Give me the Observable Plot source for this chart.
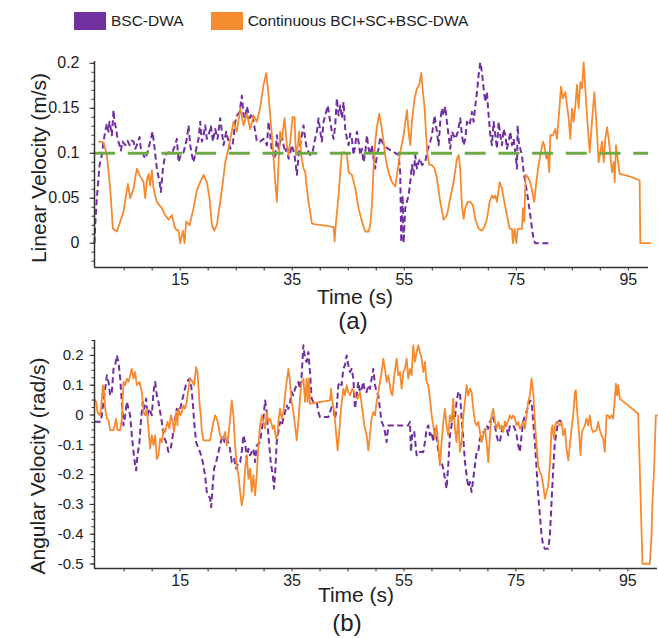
<!DOCTYPE html>
<html><head><meta charset="utf-8">
<script src="https://cdn.jsdelivr.net/npm/d3@7"></script>
<script src="https://cdn.jsdelivr.net/npm/@observablehq/plot@0.6"></script>
<style>
body{margin:0;background:#fff;font-family:"Liberation Sans",Arial,sans-serif;color:#222}
#page{position:relative;width:658px;height:638px;overflow:hidden;background:#fff}
.abs{position:absolute;white-space:nowrap;line-height:1}
</style></head><body><div id="page"></div>
<script>
// ---------- data ----------
const seriesNames = ["BSC-DWA", "Continuous BCI+SC+BSC-DWA"];
const seriesColors = ["#7030A0", "#F68A2E"];
const referenceColor = "#6DAA45";
const referenceVelocity = 0.1;

const xLabelTicks = [15, 35, 55, 75, 95];
const xMinorTicks = [5, 10, 15, 20, 25, 30, 35, 40, 45, 50, 55, 60, 65, 70, 75, 80, 85, 90, 95];
const linYTicks = [0, 0.05, 0.1, 0.15, 0.2];
const angYTicks = [-0.5, -0.4, -0.3, -0.2, -0.1, 0, 0.1, 0.2];

// Linear velocity (m/s): [time s, value]
const linBSC = [[-0.3,0],[-0.18,0.020],[0.12,0.050],[0.60,0.087],[1.01,0.098],[1.31,0.113],[1.61,0.124],[1.91,0.133],[2.20,0.124],[2.38,0.135],[2.62,0.127],[2.80,0.120],[3.10,0.148],[3.28,0.135],[3.57,0.127],[3.81,0.116],[4.17,0.109],[4.41,0.103],[4.70,0.113],[5.18,0.109],[5.60,0.114],[5.95,0.109],[6.37,0.114],[6.67,0.113],[6.97,0.105],[7.26,0.109],[7.74,0.118],[7.98,0.105],[8.45,0.098],[8.75,0.094],[9.17,0.101],[9.64,0.113],[10.06,0.124],[10.36,0.109],[10.83,0.083],[11.31,0.068],[11.55,0.057],[11.91,0.083],[12.32,0.098],[12.92,0.101],[13.51,0.100],[14.11,0.109],[14.41,0.116],[14.70,0.090],[15.12,0.098],[15.60,0.101],[16.19,0.116],[16.49,0.131],[16.79,0.109],[17.08,0.098],[17.38,0.090],[17.86,0.105],[18.27,0.116],[18.57,0.135],[18.87,0.113],[19.17,0.120],[19.46,0.131],[19.76,0.116],[20.24,0.124],[20.48,0.131],[20.83,0.113],[21.25,0.127],[21.67,0.116],[22.14,0.139],[22.44,0.124],[22.74,0.109],[23.21,0.124],[23.63,0.113],[23.93,0.105],[24.40,0.111],[24.82,0.135],[25.12,0.142],[25.60,0.146],[26.01,0.164],[26.31,0.142],[26.61,0.139],[26.91,0.152],[27.38,0.139],[27.80,0.144],[28.10,0.135],[28.69,0.113],[29.29,0.113],[29.88,0.116],[30.48,0.109],[30.77,0.135],[31.07,0.120],[31.37,0.101],[31.96,0.094],[32.26,0.120],[32.56,0.105],[32.85,0.113],[33.15,0.120],[33.45,0.109],[33.75,0.101],[34.04,0.105],[34.34,0.094],[34.64,0.101],[34.94,0.109],[35.41,0.098],[35.83,0.076],[36.13,0.098],[36.42,0.109],[36.72,0.120],[37.02,0.131],[37.32,0.116],[37.61,0.105],[38.21,0.098],[38.63,0.101],[38.98,0.113],[39.40,0.124],[39.70,0.139],[40.0,0.124],[40.29,0.113],[40.59,0.135],[40.89,0.142],[41.36,0.153],[41.60,0.142],[42.08,0.124],[42.38,0.116],[42.67,0.131],[42.97,0.161],[43.27,0.142],[43.57,0.153],[43.86,0.139],[44.16,0.157],[44.46,0.127],[44.76,0.116],[45.06,0.109],[45.35,0.122],[45.65,0.116],[45.95,0.098],[46.25,0.109],[46.54,0.124],[46.84,0.113],[47.14,0.098],[47.44,0.105],[47.73,0.090],[48.03,0.101],[48.33,0.120],[48.63,0.105],[48.92,0.098],[49.22,0.109],[49.52,0.094],[49.82,0.083],[50.11,0.098],[50.41,0.105],[50.71,0.118],[51.01,0.113],[51.60,0.107],[53.98,0.098],[54.28,0.079],[54.46,0.001],[54.70,0.053],[54.88,0.0],[55.17,0.039],[55.47,0.046],[55.77,0.053],[56.07,0.068],[56.36,0.087],[56.66,0.076],[56.96,0.098],[57.26,0.083],[57.55,0.090],[57.85,0.094],[58.15,0.087],[58.74,0.090],[59.04,0.101],[59.64,0.113],[59.94,0.120],[60.41,0.142],[60.83,0.124],[61.13,0.109],[61.42,0.135],[61.72,0.150],[62.02,0.142],[62.32,0.152],[62.61,0.135],[62.91,0.120],[63.21,0.105],[63.51,0.124],[64.10,0.116],[64.58,0.124],[64.99,0.139],[65.29,0.120],[65.60,0.109],[65.89,0.116],[66.19,0.135],[66.67,0.131],[67.08,0.146],[67.38,0.135],[67.68,0.153],[67.98,0.168],[68.27,0.187],[68.57,0.201],[68.87,0.190],[69.17,0.172],[69.46,0.157],[69.76,0.168],[70.06,0.142],[70.36,0.120],[70.65,0.109],[70.95,0.135],[71.25,0.120],[71.55,0.105],[71.85,0.135],[72.14,0.120],[72.44,0.109],[72.74,0.127],[73.04,0.120],[73.33,0.105],[73.63,0.113],[73.93,0.124],[74.23,0.109],[74.52,0.116],[74.82,0.101],[75.12,0.083],[75.24,0.131],[75.42,0.113],[75.71,0.105],[76.01,0.098],[76.31,0.079],[76.90,0.057],[77.50,0.031],[78.10,0.003],[78.39,0.0],[81.37,0.0]];

const linCont = [[0.5,0.113],[0.6,0.113],[1.31,0.112],[1.91,0.098],[2.50,0.061],[2.98,0.016],[3.69,0.013],[4.29,0.024],[4.88,0.035],[5.66,0.066],[6.07,0.050],[6.67,0.061],[7.26,0.083],[7.86,0.074],[8.45,0.068],[8.75,0.050],[9.05,0.070],[9.35,0.077],[9.64,0.064],[9.94,0.081],[10.24,0.061],[10.54,0.053],[10.83,0.046],[11.73,0.039],[12.32,0.031],[12.92,0.026],[13.51,0.031],[14.11,0.016],[14.70,0.014],[15.0,0.0],[15.48,0.014],[15.78,0.0],[16.07,0.024],[16.67,0.020],[17.38,0.039],[17.98,0.059],[18.57,0.068],[19.17,0.076],[19.76,0.068],[20.24,0.050],[20.66,0.020],[21.07,0.014],[21.55,0.020],[22.14,0.046],[22.62,0.068],[23.04,0.090],[23.33,0.098],[23.81,0.111],[24.52,0.135],[25.12,0.124],[25.72,0.150],[26.31,0.131],[26.91,0.144],[27.50,0.127],[28.10,0.142],[28.69,0.135],[29.29,0.151],[29.88,0.176],[30.36,0.189],[30.77,0.164],[31.07,0.142],[31.55,0.105],[31.96,0.068],[32.26,0.046],[32.56,0.090],[32.85,0.124],[33.15,0.116],[33.63,0.139],[34.04,0.109],[34.34,0.098],[34.64,0.113],[35.06,0.140],[35.41,0.140],[35.65,0.098],[36.0,0.109],[36.25,0.124],[36.6,0.098],[37.02,0.083],[37.32,0.079],[37.61,0.061],[37.91,0.046],[38.51,0.022],[39.10,0.021],[40.29,0.020],[41.48,0.019],[42.38,0.018],[42.56,0.002],[42.79,0.022],[43.27,0.053],[43.57,0.079],[43.86,0.101],[44.46,0.101],[44.76,0.098],[45.06,0.079],[45.65,0.076],[46.25,0.061],[46.84,0.039],[47.44,0.024],[48.03,0.013],[48.63,0.013],[48.92,0.020],[49.22,0.042],[49.52,0.083],[49.82,0.113],[50.11,0.129],[50.53,0.144],[50.89,0.131],[51.30,0.113],[51.60,0.098],[51.90,0.087],[52.20,0.079],[52.79,0.068],[53.39,0.063],[53.69,0.076],[54.28,0.101],[54.88,0.120],[55.47,0.148],[55.77,0.124],[56.07,0.109],[56.36,0.135],[56.84,0.161],[57.26,0.172],[57.67,0.176],[58.03,0.189],[58.27,0.172],[58.63,0.150],[58.87,0.124],[59.10,0.101],[59.46,0.087],[59.94,0.087],[60.41,0.083],[60.83,0.072],[61.42,0.046],[62.02,0.026],[62.61,0.031],[63.21,0.050],[63.80,0.068],[64.40,0.094],[64.70,0.098],[64.99,0.083],[65.29,0.042],[65.60,0.027],[65.89,0.039],[66.31,0.046],[66.79,0.046],[67.26,0.042],[67.68,0.027],[68.27,0.016],[68.87,0.014],[69.29,0.018],[69.76,0.027],[70.24,0.046],[70.65,0.053],[70.95,0.050],[71.25,0.053],[71.55,0.046],[72.02,0.068],[72.44,0.061],[72.74,0.050],[73.33,0.031],[73.81,0.016],[74.23,0.016],[74.40,0.0],[74.70,0.016],[75.0,0.0],[75.24,0.016],[76.01,0.016],[76.19,0.039],[76.43,0.024],[76.67,0.076],[77.02,0.074],[77.50,0.068],[77.98,0.053],[78.21,0.046],[78.57,0.068],[78.99,0.087],[79.40,0.101],[79.76,0.113],[80.0,0.109],[80.36,0.094],[80.60,0.101],[80.89,0.079],[81.07,0.120],[81.55,0.120],[81.96,0.127],[82.26,0.116],[82.74,0.153],[82.98,0.174],[83.33,0.161],[83.75,0.168],[84.05,0.153],[84.35,0.139],[84.64,0.116],[84.94,0.150],[85.24,0.135],[85.54,0.153],[85.83,0.176],[86.13,0.150],[86.43,0.179],[86.73,0.172],[87.02,0.201],[87.32,0.172],[87.62,0.142],[88.10,0.101],[88.51,0.135],[88.93,0.168],[89.29,0.135],[89.70,0.090],[90.0,0.101],[90.30,0.113],[90.60,0.090],[90.89,0.116],[91.19,0.129],[91.49,0.116],[91.79,0.098],[92.08,0.079],[92.38,0.090],[92.56,0.068],[92.80,0.109],[93.10,0.094],[93.45,0.077],[94.17,0.076],[95.36,0.074],[97.02,0.070],[97.14,0.0],[98.93,0.0]];

// Angular velocity (rad/s): [time s, value]
const angBSC = [[-0.3,-0.023],[0.72,-0.023],[1.01,-0.001],[1.31,0.044],[1.61,0.088],[1.91,0.133],[2.20,0.111],[2.50,0.066],[2.80,0.077],[3.10,0.155],[3.39,0.167],[3.69,0.200],[3.99,0.178],[4.29,0.122],[4.58,0.044],[4.88,-0.035],[5.18,-0.001],[5.48,0.044],[5.77,0.021],[6.07,-0.001],[6.37,-0.068],[6.67,-0.124],[6.97,-0.169],[7.14,-0.186],[7.38,-0.135],[7.74,-0.091],[7.98,-0.023],[8.33,0.044],[8.57,0.021],[8.93,0.055],[9.17,-0.001],[9.52,0.021],[9.94,-0.001],[10.24,0.077],[10.54,0.111],[10.83,0.066],[11.13,0.044],[11.43,0.010],[11.73,-0.023],[12.02,-0.068],[12.50,-0.091],[12.92,-0.124],[13.33,-0.113],[13.69,-0.068],[14.11,-0.012],[14.40,0.021],[14.88,0.010],[15.30,0.044],[15.71,0.077],[16.19,0.111],[16.67,0.122],[16.91,0.111],[17.26,0.044],[17.50,-0.023],[17.86,-0.091],[18.27,-0.113],[18.57,-0.124],[19.05,-0.158],[19.46,-0.202],[19.76,-0.258],[20.06,-0.270],[20.36,-0.281],[20.54,-0.309],[20.83,-0.236],[21.07,-0.180],[21.43,-0.158],[21.85,-0.124],[22.26,-0.091],[22.62,-0.068],[22.92,-0.091],[23.33,-0.079],[23.81,-0.102],[24.23,-0.158],[24.64,-0.147],[25.0,-0.180],[25.42,-0.158],[25.72,-0.158],[26.01,-0.124],[26.31,-0.068],[26.61,-0.091],[26.91,-0.147],[27.20,-0.113],[27.50,-0.135],[27.80,-0.124],[28.10,-0.113],[28.39,-0.158],[28.69,-0.102],[29.29,-0.091],[29.88,-0.012],[30.18,0.049],[30.48,0.010],[30.77,-0.068],[31.19,-0.158],[31.55,-0.202],[31.79,-0.247],[32.02,-0.180],[32.26,-0.091],[32.56,-0.057],[32.85,-0.023],[33.15,-0.035],[33.45,-0.012],[33.75,0.010],[34.04,0.032],[34.34,0.021],[34.64,0.044],[34.94,0.077],[35.23,0.066],[35.53,0.088],[35.83,0.100],[36.13,0.111],[36.42,0.088],[36.72,0.133],[37.02,0.234],[37.32,0.189],[37.61,0.178],[37.91,0.211],[38.21,0.144],[38.51,0.055],[38.80,0.044],[39.40,0.044],[39.70,0.010],[40.0,-0.007],[41.48,-0.007],[41.78,0.010],[42.08,0.027],[42.38,0.021],[42.67,-0.012],[42.97,0.021],[43.27,0.100],[43.57,0.111],[43.86,0.100],[44.16,0.155],[44.46,0.167],[44.76,0.200],[45.06,0.167],[45.35,0.144],[45.65,0.155],[45.95,0.122],[46.25,0.021],[46.54,0.066],[46.84,0.111],[47.14,0.077],[47.44,0.088],[47.73,0.111],[48.03,0.077],[48.33,0.077],[48.63,0.100],[48.92,0.088],[49.22,0.122],[49.52,0.155],[49.82,0.100],[50.11,0.077],[50.41,0.066],[50.71,0.021],[51.01,-0.023],[51.30,-0.035],[51.60,-0.057],[51.90,-0.091],[52.20,-0.035],[55.77,-0.035],[56.07,-0.023],[56.25,-0.124],[56.49,-0.057],[56.84,-0.057],[57.08,-0.102],[57.26,-0.135],[57.55,-0.124],[58.45,-0.124],[58.74,-0.091],[59.04,-0.046],[59.34,-0.035],[59.64,-0.068],[59.94,-0.057],[60.23,-0.091],[60.53,-0.046],[60.83,-0.068],[61.13,-0.124],[61.42,-0.147],[61.72,-0.158],[62.02,-0.180],[62.32,-0.214],[62.61,-0.247],[62.91,-0.169],[63.21,-0.068],[63.51,-0.035],[63.80,-0.001],[64.10,-0.012],[64.40,0.044],[64.70,0.077],[65.0,0.077],[65.30,-0.012],[65.60,-0.079],[65.89,-0.158],[66.19,-0.202],[66.49,-0.242],[66.79,-0.225],[67.08,-0.258],[67.38,-0.214],[67.68,-0.169],[67.98,-0.124],[68.27,-0.124],[68.57,-0.079],[68.87,-0.068],[69.17,-0.057],[69.46,-0.057],[69.76,-0.035],[70.06,-0.046],[70.36,-0.023],[70.65,-0.012],[70.95,-0.001],[71.25,-0.035],[71.55,-0.068],[71.85,-0.091],[72.14,-0.091],[72.44,-0.057],[72.74,-0.035],[73.04,-0.023],[73.33,-0.046],[73.63,-0.068],[73.93,-0.035],[74.52,-0.035],[74.82,-0.046],[75.12,-0.068],[75.42,-0.102],[75.71,-0.124],[76.01,-0.068],[76.31,-0.023],[76.61,-0.001],[76.90,0.010],[77.20,0.032],[77.50,0.049],[77.80,0.044],[78.10,-0.023],[78.39,-0.091],[78.69,-0.180],[78.99,-0.270],[79.29,-0.337],[79.58,-0.404],[79.88,-0.437],[80.18,-0.449],[80.77,-0.449],[81.07,-0.404],[81.37,-0.292],[81.67,-0.180],[81.96,-0.091],[82.26,-0.057],[82.56,-0.023],[82.86,-0.018],[83.15,-0.023]];

const angCont = [[-0.3,0.052],[0.0,0.044],[0.24,0.010],[0.60,-0.001],[0.89,0.021],[1.19,0.100],[1.43,0.077],[1.61,0.021],[1.91,-0.012],[2.20,-0.018],[2.50,-0.051],[3.10,-0.051],[3.57,-0.012],[3.81,-0.051],[4.29,-0.051],[4.58,-0.012],[4.88,0.111],[5.18,0.100],[5.48,0.122],[5.77,0.111],[6.07,0.133],[6.37,0.155],[6.67,0.122],[6.97,0.144],[7.26,0.100],[7.74,0.111],[8.16,0.077],[8.45,0.010],[8.75,-0.001],[9.05,0.021],[9.35,-0.046],[9.64,-0.113],[9.94,-0.068],[10.24,-0.102],[10.54,-0.068],[10.83,-0.147],[11.13,-0.135],[11.43,-0.079],[11.73,-0.091],[12.02,-0.046],[12.32,-0.057],[12.74,-0.023],[13.10,-0.046],[13.33,-0.001],[13.69,-0.023],[13.93,-0.057],[14.29,0.010],[14.52,-0.035],[14.70,0.021],[15.0,-0.001],[15.30,0.010],[15.60,0.032],[15.89,0.021],[16.19,0.044],[16.49,0.088],[16.79,0.122],[17.08,0.116],[17.50,0.100],[17.86,0.161],[18.10,0.144],[18.45,0.044],[18.69,-0.001],[18.87,-0.051],[19.17,-0.085],[20.36,-0.085],[20.83,-0.035],[21.25,-0.001],[21.55,-0.012],[21.85,-0.035],[22.14,-0.068],[22.44,-0.079],[22.74,-0.079],[23.04,-0.057],[23.33,-0.102],[23.63,-0.068],[23.93,-0.012],[24.23,0.049],[24.52,-0.001],[24.82,-0.102],[25.12,-0.169],[25.42,-0.202],[25.72,-0.258],[26.01,-0.303],[26.31,-0.270],[26.61,-0.180],[26.91,-0.135],[27.20,-0.214],[27.50,-0.180],[27.80,-0.258],[28.10,-0.202],[28.39,-0.270],[28.69,-0.202],[28.99,-0.102],[29.29,-0.035],[29.58,-0.001],[29.88,-0.023],[30.18,-0.046],[30.48,0.010],[30.77,-0.023],[31.07,-0.012],[31.55,-0.046],[31.79,-0.035],[32.14,-0.079],[32.38,-0.068],[32.62,-0.012],[32.85,0.021],[33.15,-0.012],[33.45,0.010],[33.75,0.066],[34.04,0.111],[34.34,0.155],[34.64,0.111],[34.94,0.044],[35.23,0.010],[35.53,-0.035],[35.83,-0.085],[36.13,-0.023],[36.42,0.055],[36.72,0.111],[37.02,0.122],[37.32,0.044],[37.61,0.122],[37.79,0.044],[38.03,0.122],[38.21,0.038],[41.78,0.049],[41.96,0.088],[42.20,0.044],[42.56,0.010],[42.85,-0.057],[43.15,-0.119],[43.39,-0.068],[43.75,0.021],[44.16,0.088],[44.46,0.066],[44.76,0.100],[45.06,0.077],[45.35,0.066],[45.77,0.088],[46.13,0.077],[46.37,0.060],[46.73,0.055],[47.14,0.077],[47.56,0.021],[47.92,-0.035],[48.33,-0.068],[48.63,-0.119],[48.92,-0.068],[49.22,-0.012],[49.52,0.010],[49.82,-0.001],[50.11,0.044],[50.41,0.077],[50.71,0.111],[51.01,0.144],[51.30,0.189],[51.60,0.155],[51.90,0.111],[52.20,0.133],[52.67,0.077],[52.91,0.066],[53.27,0.133],[53.69,0.189],[53.98,0.133],[54.28,0.144],[54.58,0.088],[54.88,0.144],[55.17,0.155],[55.47,0.189],[55.77,0.122],[56.07,0.155],[56.36,0.133],[56.66,0.234],[56.96,0.178],[57.26,0.211],[57.55,0.234],[57.85,0.211],[58.15,0.189],[58.45,0.144],[58.74,0.178],[59.04,0.111],[59.34,0.100],[59.64,0.055],[59.94,-0.001],[60.23,-0.035],[60.53,-0.079],[60.83,-0.035],[61.13,-0.102],[61.42,-0.169],[61.72,-0.091],[62.02,-0.023],[62.32,0.021],[62.61,-0.035],[62.91,-0.068],[63.21,-0.001],[63.51,-0.023],[63.80,0.055],[64.10,-0.046],[64.40,-0.091],[64.70,-0.001],[64.99,-0.124],[65.29,-0.091],[65.60,-0.001],[65.89,0.044],[66.19,0.100],[66.49,0.066],[66.79,0.088],[67.08,0.077],[67.38,0.021],[67.68,-0.023],[67.98,-0.035],[68.27,-0.023],[68.57,-0.057],[68.87,-0.091],[69.17,-0.068],[69.46,-0.046],[69.76,-0.091],[70.06,-0.158],[70.36,-0.068],[70.65,-0.001],[70.95,0.021],[71.25,-0.023],[71.55,-0.046],[71.85,-0.023],[72.14,-0.046],[72.44,-0.035],[72.74,-0.057],[73.04,-0.023],[73.33,-0.035],[73.93,-0.001],[74.23,-0.012],[74.52,-0.001],[74.82,-0.012],[75.12,-0.035],[75.42,-0.023],[75.71,-0.046],[76.01,-0.035],[76.31,-0.023],[76.61,-0.046],[76.90,-0.001],[77.20,0.044],[77.50,0.066],[77.80,0.122],[78.10,0.077],[78.39,-0.023],[78.69,-0.102],[78.99,-0.169],[79.29,-0.191],[79.58,-0.202],[79.88,-0.236],[80.18,-0.281],[80.48,-0.258],[80.77,-0.236],[81.07,-0.169],[81.37,-0.046],[81.55,-0.035],[81.79,-0.079],[82.02,-0.035],[82.26,-0.023],[82.86,-0.035],[83.15,-0.023],[83.45,-0.068],[83.75,-0.046],[84.05,-0.113],[84.35,-0.152],[84.64,-0.102],[84.94,-0.046],[85.24,-0.001],[85.54,0.077],[85.71,0.083],[85.95,0.010],[86.31,-0.068],[86.55,-0.135],[86.79,-0.057],[87.02,-0.046],[87.32,-0.035],[87.62,-0.012],[87.92,-0.035],[88.21,-0.001],[88.51,-0.046],[88.81,-0.057],[89.40,-0.051],[89.70,-0.023],[90.0,-0.051],[90.30,-0.068],[90.60,-0.079],[90.89,-0.124],[91.19,-0.001],[91.49,-0.001],[91.79,-0.012],[92.08,-0.001],[92.38,-0.012],[92.68,0.055],[92.86,0.105],[93.10,0.066],[93.27,0.100],[93.57,0.055],[96.85,0.004],[97.62,-0.499],[98.93,-0.499],[99.23,-0.404],[99.40,-0.292],[99.70,-0.180],[100.0,-0.001],[100.2,-0.001]];

// ---------- drawing ----------
const FONT = '"Liberation Sans", Arial, sans-serif';
const axisColor = "#333";
const pageEl = document.getElementById("page");

function addText(txt, css) {
  const d = document.createElement("div");
  d.className = "abs";
  d.textContent = txt;
  Object.assign(d.style, css);
  pageEl.appendChild(d);
  return d;
}

function panel(opts) {
  const {bsc, cont, xDomain, yDomain, yTicks, yMinorStep, yFont, yPad, height, marginTop, marginBottom, marginRight, reference} = opts;
  const yMinor = d3.range(Math.ceil(yDomain[0] / yMinorStep) * yMinorStep, yDomain[1] + 1e-9, yMinorStep);
  const lineOpts = {x: d => d[0], y: d => d[1]};
  const marks = [
    Plot.line(bsc, {...lineOpts, stroke: seriesColors[0], strokeWidth: 2, strokeDasharray: "6,3.5", strokeLinecap: "butt", strokeLinejoin: "round"}),
    Plot.line(cont, {...lineOpts, stroke: seriesColors[1], strokeWidth: 1.8, strokeLinejoin: "round"}),
  ];
  if (reference != null) {
    marks.push(Plot.ruleY([reference], {stroke: referenceColor, strokeWidth: 3, strokeDasharray: "21,12.7"}));
  }
  marks.push(
    Plot.ruleX([xDomain[0]], {stroke: axisColor, strokeWidth: 1.5}),
    Plot.ruleY([yDomain[0]], {stroke: axisColor, strokeWidth: 1.5}),
    Plot.axisX(xMinorTicks, {tickSize: 3.5, tickFormat: () => "", stroke: axisColor, label: null}),
    Plot.axisX(xLabelTicks, {tickSize: 0, tickPadding: 6.5, tickFormat: d => String(d), fontSize: 16, label: null}),
    Plot.axisY(yMinor, {tickSize: 2.5, tickFormat: () => "", stroke: axisColor, label: null}),
    Plot.axisY(yTicks, {tickSize: 4.5, tickFormat: () => "", stroke: axisColor, label: null}),
    Plot.axisY(yTicks, {tickSize: 0, tickPadding: yPad, tickFormat: d => String(d), fontSize: yFont, label: null})
  );
  return Plot.plot({
    width: 658, height, marginLeft: 94, marginRight, marginTop, marginBottom,
    x: {domain: xDomain, label: null},
    y: {domain: yDomain, label: null},
    style: {fontFamily: FONT, color: "#222", background: "transparent", overflow: "visible"},
    marks
  });
}

// legend
const legend = document.createElement("div");
Object.assign(legend.style, {position: "absolute", left: "74px", top: "12px", height: "18px", display: "flex", alignItems: "center", fontSize: "15.5px", whiteSpace: "nowrap"});
seriesNames.forEach((name, i) => {
  const item = document.createElement("div");
  Object.assign(item.style, {display: "flex", alignItems: "center", marginRight: i === 0 ? "27px" : "0"});
  const sw = document.createElement("div");
  Object.assign(sw.style, {width: "32px", height: "18px", background: seriesColors[i], marginRight: "5px"});
  const tx = document.createElement("span");
  tx.textContent = name;
  item.appendChild(sw); item.appendChild(tx);
  legend.appendChild(item);
});
pageEl.appendChild(legend);

// top panel (a)
const topPlot = panel({
  bsc: linBSC, cont: linCont, xDomain: [-0.3, 98.6], yDomain: [-0.027, 0.202],
  yTicks: linYTicks, yMinorStep: 0.01, yFont: 16, yPad: 15,
  height: 280, marginTop: 11, marginBottom: 63, marginRight: 10, reference: referenceVelocity
});
const topWrap = document.createElement("div");
Object.assign(topWrap.style, {position: "absolute", left: "0px", top: "50px"});
topWrap.appendChild(topPlot);
pageEl.appendChild(topWrap);

// bottom panel (b)
const botPlot = panel({
  bsc: angBSC, cont: angCont, xDomain: [-0.3, 100.3], yDomain: [-0.515, 0.25],
  yTicks: angYTicks, yMinorStep: 0.025, yFont: 15, yPad: 11,
  height: 308, marginTop: 10, marginBottom: 70, marginRight: 1, reference: null
});
const botWrap = document.createElement("div");
Object.assign(botWrap.style, {position: "absolute", left: "0px", top: "330px"});
botWrap.appendChild(botPlot);
pageEl.appendChild(botWrap);

// titles
const rot = {transform: "translate(-50%,-50%) rotate(-90deg)", fontSize: "21px"};
addText("Linear Velocity (m/s)", {left: "38px", top: "168px", ...rot});
addText("Angular Velocity (rad/s)", {left: "37px", top: "466px", ...rot});
const ctr = {transform: "translate(-50%,-50%)"};
addText("Time (s)", {left: "355px", top: "296px", fontSize: "21px", ...ctr});
addText("(a)", {left: "353px", top: "321px", fontSize: "24px", ...ctr});
addText("Time (s)", {left: "356px", top: "594px", fontSize: "21px", ...ctr});
addText("(b)", {left: "347px", top: "623px", fontSize: "24px", ...ctr});
</script></body></html>
